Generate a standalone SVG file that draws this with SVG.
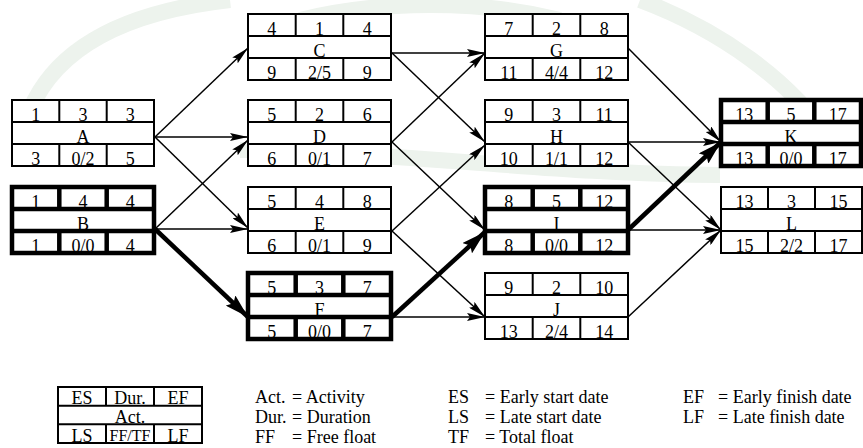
<svg xmlns="http://www.w3.org/2000/svg" width="863" height="448" viewBox="0 0 863 448">
<style>
  text { font-family: "Liberation Serif", "Times New Roman", serif; font-size: 18px; fill: #000; }
  .c { text-anchor: middle; }
  .box { fill: #fff; stroke: #000; stroke-width: 2; }
  .div { stroke: #000; stroke-width: 2; }
  .bold .box { stroke-width: 4.5; }
  .bold .div { stroke-width: 4.5; }
  .edge { stroke: #000; stroke-width: 1.5; fill: none; marker-end: url(#arr); }
  .edge.crit { stroke-width: 4.5; marker-end: url(#arrB); }
  .wm { fill: none; stroke: #edf3ed; stroke-width: 16; }
</style>
<defs>
  <marker id="arr" viewBox="0 0 18 8" markerWidth="18" markerHeight="8" refX="18" refY="4" orient="auto" markerUnits="userSpaceOnUse">
    <path d="M0,0 L18,4 L0,8 L3,4 Z" fill="#000"/>
  </marker>
  <marker id="arrB" viewBox="0 0 24 14" markerWidth="24" markerHeight="14" refX="24" refY="7" orient="auto" markerUnits="userSpaceOnUse">
    <path d="M0,0 L24,7 L0,14 L4,7 Z" fill="#000"/>
  </marker>
</defs>
<rect x="0" y="0" width="863" height="448" fill="#fff"/>
<g id="watermark">
  <path class="wm" d="M30,110 C60,40 140,10 230,0"/>
  <path class="wm" d="M300,20 C380,0 480,0 560,20"/>
  <path class="wm" d="M240,150 C380,150 560,175 720,175"/>
  <path class="wm" d="M640,0 C720,30 790,80 830,140"/>
</g>
<g id="connectors">
  <line class="edge" x1="155" y1="137" x2="248" y2="48"/>
  <line class="edge" x1="155" y1="137" x2="248" y2="137"/>
  <line class="edge" x1="155" y1="137" x2="248" y2="228"/>
  <line class="edge" x1="155" y1="229" x2="248" y2="140"/>
  <line class="edge" x1="155" y1="229" x2="248" y2="229"/>
  <line class="edge crit" x1="155" y1="229" x2="248" y2="317"/>
  <line class="edge" x1="392" y1="53" x2="485" y2="53"/>
  <line class="edge" x1="392" y1="53" x2="485" y2="142"/>
  <line class="edge" x1="392" y1="142" x2="485" y2="53"/>
  <line class="edge" x1="392" y1="142" x2="485" y2="230"/>
  <line class="edge" x1="392" y1="231" x2="485" y2="145"/>
  <line class="edge" x1="392" y1="231" x2="485" y2="317"/>
  <line class="edge crit" x1="392" y1="317" x2="485" y2="232"/>
  <line class="edge" x1="392" y1="317" x2="485" y2="317"/>
  <line class="edge" x1="628" y1="48" x2="721" y2="142"/>
  <line class="edge" x1="628" y1="142" x2="721" y2="142"/>
  <line class="edge" x1="628" y1="142" x2="721" y2="230"/>
  <line class="edge crit" x1="628" y1="230" x2="721" y2="142"/>
  <line class="edge" x1="628" y1="230" x2="721" y2="230"/>
  <line class="edge" x1="628" y1="317" x2="721" y2="230"/>
</g>
<g id="node-A" transform="translate(12,100)">
  <rect class="box" width="142" height="66"/>
  <line class="div" x1="0" y1="22" x2="142" y2="22"/><line class="div" x1="0" y1="44" x2="142" y2="44"/>
  <line class="div" x1="47.3" y1="0" x2="47.3" y2="22"/><line class="div" x1="94.7" y1="0" x2="94.7" y2="22"/>
  <line class="div" x1="47.3" y1="44" x2="47.3" y2="66"/><line class="div" x1="94.7" y1="44" x2="94.7" y2="66"/>
  <text class="c" x="23.7" y="21">1</text><text class="c" x="71" y="21">3</text><text class="c" x="118.3" y="21">3</text>
  <text class="c" x="71" y="43">A</text>
  <text class="c" x="23.7" y="65">3</text><text class="c" x="71" y="65">0/2</text><text class="c" x="118.3" y="65">5</text>
</g>
<g id="node-B" class="bold" transform="translate(12,187)">
  <rect class="box" width="142" height="66"/>
  <line class="div" x1="0" y1="22" x2="142" y2="22"/><line class="div" x1="0" y1="44" x2="142" y2="44"/>
  <line class="div" x1="47.3" y1="0" x2="47.3" y2="22"/><line class="div" x1="94.7" y1="0" x2="94.7" y2="22"/>
  <line class="div" x1="47.3" y1="44" x2="47.3" y2="66"/><line class="div" x1="94.7" y1="44" x2="94.7" y2="66"/>
  <text class="c" x="23.7" y="21">1</text><text class="c" x="71" y="21">4</text><text class="c" x="118.3" y="21">4</text>
  <text class="c" x="71" y="43">B</text>
  <text class="c" x="23.7" y="65">1</text><text class="c" x="71" y="65">0/0</text><text class="c" x="118.3" y="65">4</text>
</g>
<g id="node-C" transform="translate(248,14)">
  <rect class="box" width="143" height="66"/>
  <line class="div" x1="0" y1="22" x2="143" y2="22"/><line class="div" x1="0" y1="44" x2="143" y2="44"/>
  <line class="div" x1="47.7" y1="0" x2="47.7" y2="22"/><line class="div" x1="95.3" y1="0" x2="95.3" y2="22"/>
  <line class="div" x1="47.7" y1="44" x2="47.7" y2="66"/><line class="div" x1="95.3" y1="44" x2="95.3" y2="66"/>
  <text class="c" x="23.8" y="21">4</text><text class="c" x="71.5" y="21">1</text><text class="c" x="119.2" y="21">4</text>
  <text class="c" x="71.5" y="43">C</text>
  <text class="c" x="23.8" y="65">9</text><text class="c" x="71.5" y="65">2/5</text><text class="c" x="119.2" y="65">9</text>
</g>
<g id="node-D" transform="translate(248,100)">
  <rect class="box" width="143" height="66"/>
  <line class="div" x1="0" y1="22" x2="143" y2="22"/><line class="div" x1="0" y1="44" x2="143" y2="44"/>
  <line class="div" x1="47.7" y1="0" x2="47.7" y2="22"/><line class="div" x1="95.3" y1="0" x2="95.3" y2="22"/>
  <line class="div" x1="47.7" y1="44" x2="47.7" y2="66"/><line class="div" x1="95.3" y1="44" x2="95.3" y2="66"/>
  <text class="c" x="23.8" y="21">5</text><text class="c" x="71.5" y="21">2</text><text class="c" x="119.2" y="21">6</text>
  <text class="c" x="71.5" y="43">D</text>
  <text class="c" x="23.8" y="65">6</text><text class="c" x="71.5" y="65">0/1</text><text class="c" x="119.2" y="65">7</text>
</g>
<g id="node-E" transform="translate(248,187)">
  <rect class="box" width="143" height="66"/>
  <line class="div" x1="0" y1="22" x2="143" y2="22"/><line class="div" x1="0" y1="44" x2="143" y2="44"/>
  <line class="div" x1="47.7" y1="0" x2="47.7" y2="22"/><line class="div" x1="95.3" y1="0" x2="95.3" y2="22"/>
  <line class="div" x1="47.7" y1="44" x2="47.7" y2="66"/><line class="div" x1="95.3" y1="44" x2="95.3" y2="66"/>
  <text class="c" x="23.8" y="21">5</text><text class="c" x="71.5" y="21">4</text><text class="c" x="119.2" y="21">8</text>
  <text class="c" x="71.5" y="43">E</text>
  <text class="c" x="23.8" y="65">6</text><text class="c" x="71.5" y="65">0/1</text><text class="c" x="119.2" y="65">9</text>
</g>
<g id="node-F" class="bold" transform="translate(248,273)">
  <rect class="box" width="143" height="66"/>
  <line class="div" x1="0" y1="22" x2="143" y2="22"/><line class="div" x1="0" y1="44" x2="143" y2="44"/>
  <line class="div" x1="47.7" y1="0" x2="47.7" y2="22"/><line class="div" x1="95.3" y1="0" x2="95.3" y2="22"/>
  <line class="div" x1="47.7" y1="44" x2="47.7" y2="66"/><line class="div" x1="95.3" y1="44" x2="95.3" y2="66"/>
  <text class="c" x="23.8" y="21">5</text><text class="c" x="71.5" y="21">3</text><text class="c" x="119.2" y="21">7</text>
  <text class="c" x="71.5" y="43">F</text>
  <text class="c" x="23.8" y="65">5</text><text class="c" x="71.5" y="65">0/0</text><text class="c" x="119.2" y="65">7</text>
</g>
<g id="node-G" transform="translate(485,14)">
  <rect class="box" width="143" height="66"/>
  <line class="div" x1="0" y1="22" x2="143" y2="22"/><line class="div" x1="0" y1="44" x2="143" y2="44"/>
  <line class="div" x1="47.7" y1="0" x2="47.7" y2="22"/><line class="div" x1="95.3" y1="0" x2="95.3" y2="22"/>
  <line class="div" x1="47.7" y1="44" x2="47.7" y2="66"/><line class="div" x1="95.3" y1="44" x2="95.3" y2="66"/>
  <text class="c" x="23.8" y="21">7</text><text class="c" x="71.5" y="21">2</text><text class="c" x="119.2" y="21">8</text>
  <text class="c" x="71.5" y="43">G</text>
  <text class="c" x="23.8" y="65">11</text><text class="c" x="71.5" y="65">4/4</text><text class="c" x="119.2" y="65">12</text>
</g>
<g id="node-H" transform="translate(485,100)">
  <rect class="box" width="143" height="66"/>
  <line class="div" x1="0" y1="22" x2="143" y2="22"/><line class="div" x1="0" y1="44" x2="143" y2="44"/>
  <line class="div" x1="47.7" y1="0" x2="47.7" y2="22"/><line class="div" x1="95.3" y1="0" x2="95.3" y2="22"/>
  <line class="div" x1="47.7" y1="44" x2="47.7" y2="66"/><line class="div" x1="95.3" y1="44" x2="95.3" y2="66"/>
  <text class="c" x="23.8" y="21">9</text><text class="c" x="71.5" y="21">3</text><text class="c" x="119.2" y="21">11</text>
  <text class="c" x="71.5" y="43">H</text>
  <text class="c" x="23.8" y="65">10</text><text class="c" x="71.5" y="65">1/1</text><text class="c" x="119.2" y="65">12</text>
</g>
<g id="node-I" class="bold" transform="translate(485,187)">
  <rect class="box" width="143" height="66"/>
  <line class="div" x1="0" y1="22" x2="143" y2="22"/><line class="div" x1="0" y1="44" x2="143" y2="44"/>
  <line class="div" x1="47.7" y1="0" x2="47.7" y2="22"/><line class="div" x1="95.3" y1="0" x2="95.3" y2="22"/>
  <line class="div" x1="47.7" y1="44" x2="47.7" y2="66"/><line class="div" x1="95.3" y1="44" x2="95.3" y2="66"/>
  <text class="c" x="23.8" y="21">8</text><text class="c" x="71.5" y="21">5</text><text class="c" x="119.2" y="21">12</text>
  <text class="c" x="71.5" y="43">I</text>
  <text class="c" x="23.8" y="65">8</text><text class="c" x="71.5" y="65">0/0</text><text class="c" x="119.2" y="65">12</text>
</g>
<g id="node-J" transform="translate(485,273)">
  <rect class="box" width="143" height="66"/>
  <line class="div" x1="0" y1="22" x2="143" y2="22"/><line class="div" x1="0" y1="44" x2="143" y2="44"/>
  <line class="div" x1="47.7" y1="0" x2="47.7" y2="22"/><line class="div" x1="95.3" y1="0" x2="95.3" y2="22"/>
  <line class="div" x1="47.7" y1="44" x2="47.7" y2="66"/><line class="div" x1="95.3" y1="44" x2="95.3" y2="66"/>
  <text class="c" x="23.8" y="21">9</text><text class="c" x="71.5" y="21">2</text><text class="c" x="119.2" y="21">10</text>
  <text class="c" x="71.5" y="43">J</text>
  <text class="c" x="23.8" y="65">13</text><text class="c" x="71.5" y="65">2/4</text><text class="c" x="119.2" y="65">14</text>
</g>
<g id="node-K" class="bold" transform="translate(721,100)">
  <rect class="box" width="140" height="66"/>
  <line class="div" x1="0" y1="22" x2="140" y2="22"/><line class="div" x1="0" y1="44" x2="140" y2="44"/>
  <line class="div" x1="46.7" y1="0" x2="46.7" y2="22"/><line class="div" x1="93.3" y1="0" x2="93.3" y2="22"/>
  <line class="div" x1="46.7" y1="44" x2="46.7" y2="66"/><line class="div" x1="93.3" y1="44" x2="93.3" y2="66"/>
  <text class="c" x="23.3" y="21">13</text><text class="c" x="70" y="21">5</text><text class="c" x="116.7" y="21">17</text>
  <text class="c" x="70" y="43">K</text>
  <text class="c" x="23.3" y="65">13</text><text class="c" x="70" y="65">0/0</text><text class="c" x="116.7" y="65">17</text>
</g>
<g id="node-L" transform="translate(721,187)">
  <rect class="box" width="141" height="66"/>
  <line class="div" x1="0" y1="22" x2="141" y2="22"/><line class="div" x1="0" y1="44" x2="141" y2="44"/>
  <line class="div" x1="47" y1="0" x2="47" y2="22"/><line class="div" x1="94" y1="0" x2="94" y2="22"/>
  <line class="div" x1="47" y1="44" x2="47" y2="66"/><line class="div" x1="94" y1="44" x2="94" y2="66"/>
  <text class="c" x="23.5" y="21">13</text><text class="c" x="70.5" y="21">3</text><text class="c" x="117.5" y="21">15</text>
  <text class="c" x="70.5" y="43">L</text>
  <text class="c" x="23.5" y="65">15</text><text class="c" x="70.5" y="65">2/2</text><text class="c" x="117.5" y="65">17</text>
</g>
<g id="legend-key" transform="translate(58,387)">
  <rect class="box" width="144" height="56"/>
  <line class="div" x1="0" y1="18.7" x2="144" y2="18.7"/><line class="div" x1="0" y1="37.3" x2="144" y2="37.3"/>
  <line class="div" x1="48" y1="0" x2="48" y2="18.7"/><line class="div" x1="96" y1="0" x2="96" y2="18.7"/>
  <line class="div" x1="48" y1="37.3" x2="48" y2="56"/><line class="div" x1="96" y1="37.3" x2="96" y2="56"/>
  <text class="c" x="24" y="17">ES</text><text class="c" x="72" y="17">Dur.</text><text class="c" x="120" y="17">EF</text>
  <text class="c" x="72" y="36">Act.</text>
  <text class="c" x="24" y="55">LS</text><text class="c" x="72" y="54" style="font-size:16px">FF/TF</text><text class="c" x="120" y="55">LF</text>
</g>
<g id="legend-text">
  <text x="255" y="403">Act.</text><text x="292" y="403">= Activity</text>
  <text x="255" y="423">Dur.</text><text x="292" y="423">= Duration</text>
  <text x="255" y="443">FF</text><text x="292" y="443">= Free float</text>
  <text x="448" y="403">ES</text><text x="485" y="403">= Early start date</text>
  <text x="448" y="423">LS</text><text x="485" y="423">= Late start date</text>
  <text x="448" y="443">TF</text><text x="485" y="443">= Total float</text>
  <text x="683" y="403">EF</text><text x="718" y="403">= Early finish date</text>
  <text x="683" y="423">LF</text><text x="718" y="423">= Late finish date</text>
</g>
</svg>
